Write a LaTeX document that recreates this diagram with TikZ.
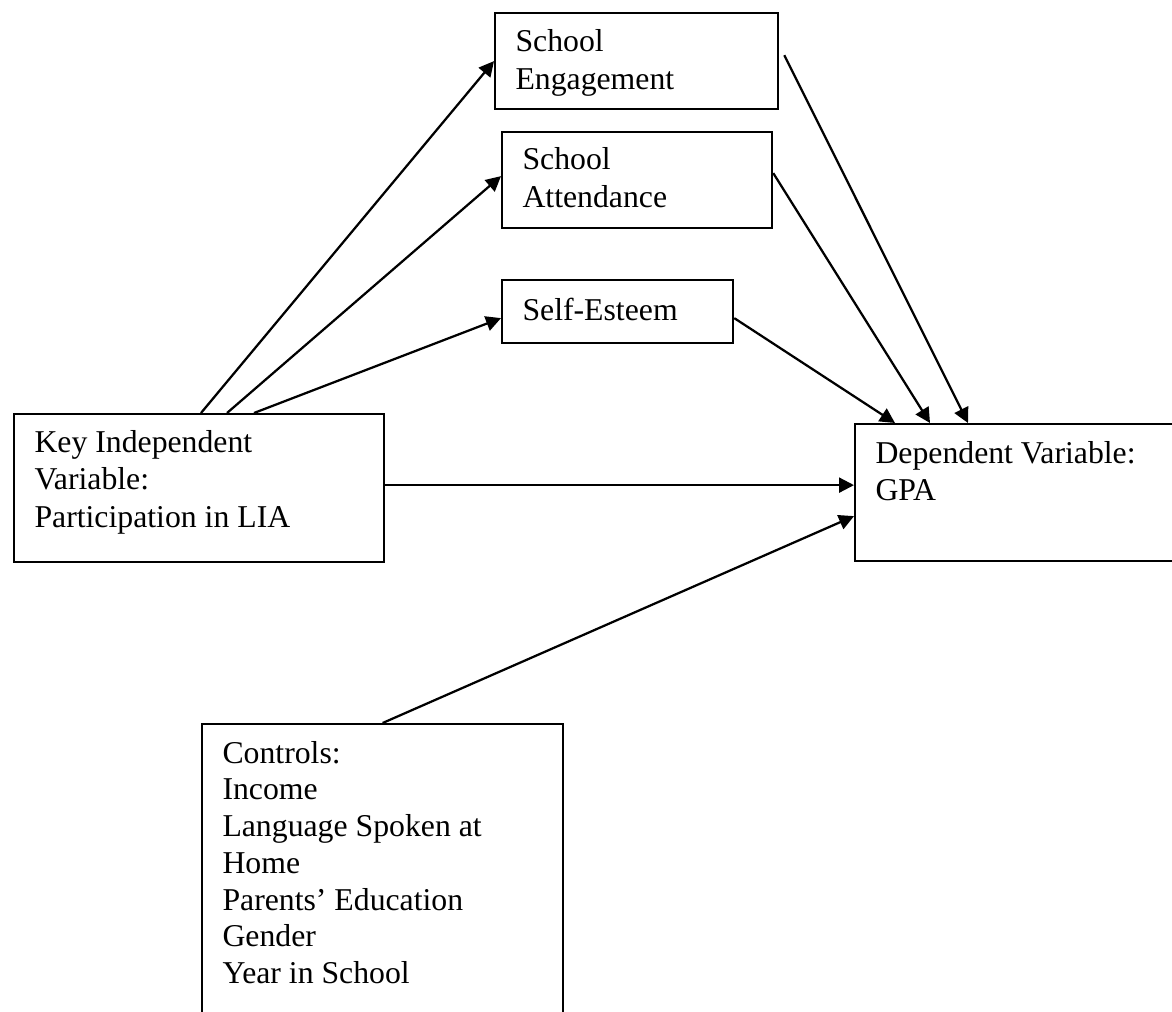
\documentclass[tikz,border=0pt]{standalone}
\usepackage{fontspec}
\setmainfont{Liberation Serif}
\usetikzlibrary{arrows.meta}
\begin{document}
\begin{tikzpicture}[x=0.4pt,y=-0.4pt,
        varbox/.style={draw,line width=0.9pt,inner sep=0pt,anchor=north west},
        vartext/.style={align=left,inner sep=0pt,anchor=base west,
            font=\fontsize{12.7pt}{15pt}\selectfont},
        link/.style={-{Triangle[length=6pt,width=6pt]},line width=0.9pt}]
\useasboundingbox (0,0) rectangle (1172,1012);

\node[varbox,minimum width=113.2pt,minimum height=38.4pt] (engage) at (494,12) {};
\node[varbox,minimum width=108pt,minimum height=38.4pt] (attend) at (501,131) {};
\node[varbox,minimum width=92.4pt,minimum height=25.2pt] (esteem) at (501,279) {};
\node[varbox,minimum width=148pt,minimum height=59.2pt] (keyvar) at (13,413) {};
\node[varbox,minimum width=136pt,minimum height=54.8pt] (depvar) at (854,423) {};
\node[varbox,minimum width=144.4pt,minimum height=124pt] (controls) at (201,723) {};

\node[vartext] (engagetxt) at ([shift={(8.4pt,-31pt)}]engage.north west) {School\\Engagement};
\node[vartext] (attendtxt) at ([shift={(8.4pt,-30.6pt)}]attend.north west) {School\\Attendance};
\node[vartext] (esteemtxt) at ([shift={(8.4pt,-16.4pt)}]esteem.north west) {Self-Esteem};
\node[vartext] (keyvartxt) at ([shift={(8.4pt,-45.6pt)}]keyvar.north west) {Key Independent\\Variable:\\Participation in LIA};
\node[vartext] (depvartxt) at ([shift={(8.4pt,-31pt)}]depvar.north west) {Dependent Variable:\\GPA};
\node[vartext,font=\fontsize{12.7pt}{14.7pt}\selectfont] (controlstxt) at ([shift={(8.4pt,-104.2pt)}]controls.north west)
    {Controls:\\Income\\Language Spoken at\\Home\\Parents’ Education\\Gender\\Year in School};

\draw[link] ([xshift=75.2pt]keyvar.north west) -- (engage.west);
\draw[link] ([xshift=85.6pt]keyvar.north west) -- ([yshift=1.6pt]attend.west);
\draw[link] ([xshift=96.4pt]keyvar.north west) -- ([yshift=-2.6pt]esteem.west);
\draw[link] ([yshift=1.2pt]keyvar.east) -- ([yshift=1.2pt]keyvar.east -| depvar.west);
\draw[link] (controls.north) -- ([yshift=-9.4pt]depvar.west);

\draw[link] ([shift={(2pt,2.4pt)}]engage.east) -- ([xshift=45.6pt]depvar.north west);
\draw[link] ([yshift=2.8pt]attend.east) -- ([xshift=30.4pt]depvar.north west);
\draw[link] ([yshift=-2.6pt]esteem.east) -- ([xshift=16.4pt]depvar.north west);
\end{tikzpicture}
\end{document}
